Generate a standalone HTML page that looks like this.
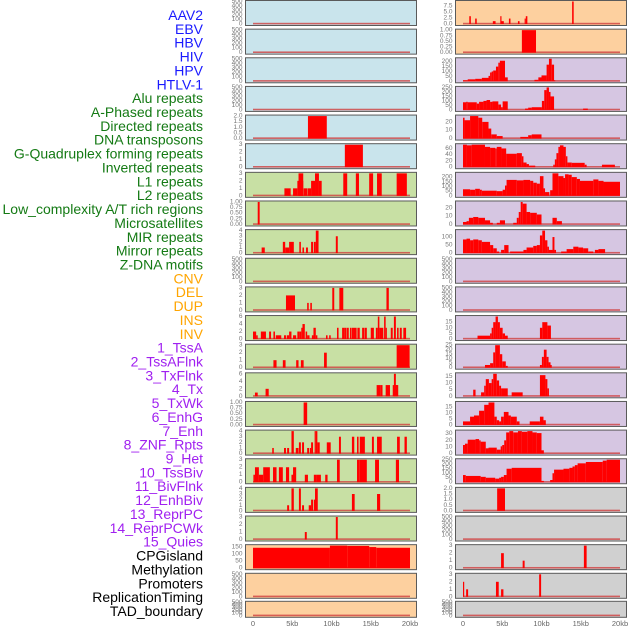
<!DOCTYPE html>
<html><head><meta charset="utf-8">
<style>
html,body{margin:0;padding:0;background:#fff;}
svg{display:block;font-family:"Liberation Sans",sans-serif;}
</style></head>
<body>
<svg id="chart" width="630" height="630" viewBox="0 0 630 630" xmlns="http://www.w3.org/2000/svg"></svg>
<script>
// ---- labels ----
const trackLabels = ["AAV2","EBV","HBV","HIV","HPV","HTLV-1",
"Alu repeats","A-Phased repeats","Directed repeats","DNA transposons","G-Quadruplex forming repeats","Inverted repeats","L1 repeats","L2 repeats","Low_complexity A/T rich regions","Microsatellites","MIR repeats","Mirror repeats","Z-DNA motifs",
"CNV","DEL","DUP","INS","INV",
"1_TssA","2_TssAFlnk","3_TxFlnk","4_Tx","5_TxWk","6_EnhG","7_Enh","8_ZNF_Rpts","9_Het","10_TssBiv","11_BivFlnk","12_EnhBiv","13_ReprPC","14_ReprPCWk","15_Quies",
"CPGisland","Methylation","Promoters","ReplicationTiming","TAD_boundary"];
const labelGroups = [6,13,5,15,5];
const groupColors = ["#1a1aff","#147a14","#ffa500","#a020f0","#000000"];
const xTickValues = [0,5,10,15,20];
const xTickLabels = ["0","5kb","10kb","15kb","20kb"];
const emptyTicks = [0,100,200,300,400,500];

// ---- left column bars [startKb, endKb, value] ----
const L4 = [[7.0,9.4,2]];
const L5 = [[11.7,14.0,3]];
const L6 = [[4.0,4.8,1],[5.1,5.65,1],[5.65,6.4,2],[5.8,6.4,3],[6.45,6.9,1],[6.95,7.4,1],[7.4,7.9,2],[7.9,8.4,3],[8.4,8.75,2],[11.5,12.0,3],[13.1,13.5,3],[14.8,15.3,3],[15.8,16.4,3],[18.3,19.6,3]];
const L7 = [[0.6,0.85,1]];
const L8 = [[1.1,1.5,1],[3.8,4.1,2],[4.1,4.6,1],[4.6,5.2,2],[5.9,6.1,2],[6.3,6.5,1],[6.75,7.0,1],[7.4,7.65,2],[7.75,8.0,2],[8.0,8.35,4],[10.55,10.8,3]];
const L10 = [[4.2,5.35,2],[6.9,7.1,1],[7.3,7.5,1],[10.1,10.35,3],[11.0,11.5,3],[17.0,17.3,3]];
const L11 = [[0,0.4,2],[0.4,0.6,1],[1.0,1.65,2],[2.05,2.3,2],[2.6,2.8,2],[2.9,3.6,1],[3.95,4.2,1],[4.3,4.6,1],[4.6,4.9,2],[5.1,5.5,1],[5.65,5.9,2],[5.9,6.15,2],[6.15,6.3,3],[6.3,6.6,4],[6.7,6.9,2],[6.9,7.2,1],[7.5,7.7,1],[7.7,8.0,3],[8.0,8.2,1],[9.3,9.5,1],[9.7,9.9,1],[10.7,10.9,3],[11.35,11.7,3],[11.7,11.9,3],[11.95,12.2,3],[12.35,12.55,3],[12.6,12.8,3],[12.8,13.2,3],[13.3,13.6,3],[13.9,14.15,3],[14.2,14.5,3],[15.0,15.4,3],[15.65,15.9,3],[15.9,16.1,6],[16.1,16.6,3],[16.7,16.9,6],[16.9,17.0,3],[17.55,17.8,3],[17.95,18.2,6],[18.35,18.55,3],[18.7,18.95,3],[19.15,19.5,3]];
const L12 = [[2.6,3.0,1],[3.8,4.15,1],[5.5,5.8,1],[6.1,6.45,1],[9.05,9.4,2],[18.3,19.95,3]];
const L13 = [[0.25,0.6,1],[1.6,2.0,2],[15.75,16.2,3],[16.2,16.5,3],[16.9,17.45,3],[17.8,18.4,3],[17.95,18.2,6],[18.2,18.5,3]];
const L14 = [[6.45,6.9,1]];
const L15 = [[2.45,2.65,1],[3.95,4.2,1],[4.35,4.6,1],[4.9,5.2,4],[5.45,5.8,1],[5.85,6.1,2],[6.25,6.5,2],[6.9,7.15,1],[7.25,7.4,1],[7.4,7.65,2],[7.85,8.0,4],[8.0,8.2,4],[8.2,8.5,2],[9.4,9.9,2],[10.95,11.2,3],[12.6,12.9,3],[13.25,13.45,3],[13.6,14.25,3],[15.15,15.4,3],[15.8,16.4,3],[18.35,18.7,3],[19.3,19.6,3]];
const L16 = [[0.05,0.25,1],[0.25,0.75,2],[0.75,1.3,1],[1.3,2.15,2],[2.55,3.0,2],[3.3,3.8,2],[4.2,4.6,2],[4.9,5.15,1],[5.1,5.5,2],[6.6,7.0,1],[7.75,8.1,1],[8.1,8.65,1],[9.2,9.5,1],[10.7,11.05,3],[13.25,13.6,3],[13.6,14.5,3],[15.55,16.05,3],[18.2,18.6,3]];
const L17 = [[4.35,4.6,1],[4.9,5.2,4],[5.85,6.1,4],[6.25,6.5,1],[7.1,7.4,1],[7.4,7.65,2],[7.75,7.95,2],[7.9,8.25,4],[12.6,12.95,3],[15.8,16.2,3]];
const L18 = [[6.6,6.85,1],[10.55,10.8,3]];
const L19 = [[0,9.8,145],[9.8,12.0,160],[12.0,14.8,158],[14.8,15.7,150],[15.7,20.0,145]];

// ---- right column bars ----
const R0 = [[0.8,1.0,3.3],[1.55,1.75,2.3],[3.8,4.15,1.2],[4.75,4.9,3.3],[4.9,5.2,1.2],[5.85,6.05,2.3],[7.0,7.2,1.2],[7.85,8.0,2.3],[8.0,8.2,3.3],[13.9,14.1,9.5]];
const R1 = [[7.5,9.3,1]];
const R2 = [[0,0.6,10],[0.6,1.55,20],[1.55,2.4,25],[2.4,3.25,35],[3.25,3.45,55],[3.45,3.65,90],[3.65,3.85,100],[3.85,4.2,110],[4.2,4.5,150],[4.5,4.7,190],[4.7,5.35,210],[5.35,5.7,40],[9.1,9.6,15],[9.6,10.0,40],[10.0,10.65,60],[10.65,10.95,170],[10.95,11.3,230],[11.3,11.6,170],[11.6,11.75,10]];
const R3 = [[0,0.4,85],[0.4,0.6,90],[0.6,1.75,85],[1.75,2.05,70],[2.05,2.6,90],[2.6,3.0,100],[3.0,3.45,110],[3.45,3.75,90],[3.75,4.5,95],[4.5,4.85,60],[4.85,5.05,30],[5.05,5.7,95],[7.9,8.3,15],[8.3,8.75,25],[8.75,10.05,30],[10.05,10.35,100],[10.35,10.65,220],[10.65,10.95,250],[10.95,11.15,200],[11.15,11.6,150],[15.3,15.9,15]];
const R4 = [[0,0.2,25],[0.2,0.9,22],[0.9,1.95,27],[1.95,2.45,25],[2.45,3.25,20],[3.25,3.6,12],[3.6,4.3,5],[4.3,5.05,3],[7.3,8.3,2],[8.3,8.75,4],[8.75,10.0,5]];
const R5 = [[0,0.5,72],[0.5,1.1,70],[1.1,2.8,72],[2.8,3.45,65],[3.45,4.1,62],[4.1,4.3,60],[4.3,4.9,65],[4.9,5.5,60],[5.5,6.85,43],[6.85,7.5,45],[7.5,7.7,35],[7.7,8.1,15],[8.1,8.4,10],[8.4,9.2,5],[11.5,11.7,8],[11.7,11.9,25],[11.9,12.15,45],[12.15,12.35,65],[12.35,12.8,70],[12.8,13.1,65],[13.1,13.3,35],[13.3,13.85,15],[13.85,15.5,14],[15.5,15.75,8],[17.7,19.35,8]];
const R6 = [[0,0.9,70],[0.9,1.55,65],[1.55,2.15,75],[2.15,2.4,65],[2.4,4.3,55],[4.3,5.05,50],[5.05,5.35,65],[5.35,5.55,110],[5.55,6.85,170],[6.85,7.7,165],[7.7,8.55,170],[8.55,8.95,160],[8.95,9.4,140],[9.4,9.8,130],[9.8,10.25,210],[10.25,10.45,80],[10.45,11.0,40],[11.1,11.4,60],[11.4,12.15,240],[12.15,12.8,210],[12.8,13.0,190],[13.0,13.45,230],[13.45,13.85,225],[13.85,14.5,200],[14.5,14.9,180],[14.9,16.6,160],[16.6,17.25,175],[17.25,17.9,160],[17.9,20.0,150]];
const R7 = [[0,0.45,3],[0.45,0.75,4],[0.75,1.3,8],[1.3,1.95,9],[1.95,2.8,8],[2.8,3.45,5],[3.45,3.8,2],[4.3,4.7,2],[4.7,5.35,5],[6.4,6.85,2],[6.85,7.1,8],[7.1,7.35,15],[7.35,7.6,27],[7.6,8.1,25],[8.1,8.55,15],[8.55,9.4,14],[9.4,10.0,12],[11.4,11.95,8],[11.95,12.6,4]];
const R8 = [[0,0.45,85],[0.45,0.9,90],[0.9,1.3,80],[1.3,1.95,85],[1.95,2.4,80],[2.4,3.45,70],[3.45,3.85,50],[3.85,4.3,30],[4.3,4.6,10],[4.85,5.25,20],[5.25,5.8,50],[6.0,7.7,10],[7.7,8.1,20],[8.1,8.95,35],[8.95,9.4,45],[9.4,9.8,50],[9.8,10.1,110],[10.1,10.45,140],[10.45,10.75,80],[10.75,10.95,40],[10.95,11.4,20],[11.4,11.65,100],[11.65,11.85,20],[12.5,13.2,10],[13.2,14.05,25],[14.05,14.7,40],[14.7,15.3,35],[15.3,15.95,30],[15.95,16.6,10],[16.8,17.25,20],[17.25,18.1,25]];
const R11 = [[1.85,3.45,3],[3.45,3.65,5],[3.65,3.85,10],[3.85,4.15,15],[4.15,4.45,20],[4.45,4.7,15],[4.7,5.05,10],[5.05,5.35,5],[5.35,5.7,3],[9.8,10.1,10],[10.1,10.75,15],[10.75,11.2,12]];
const R12 = [[2.8,3.45,3],[3.45,3.85,5],[3.85,4.1,17],[4.1,4.7,25],[4.7,5.0,15],[5.0,5.45,7],[5.45,5.7,2],[9.8,10.05,3],[10.05,10.3,12],[10.3,10.65,20],[10.65,10.9,12],[10.9,11.15,6],[11.15,11.3,3]];
const R13 = [[1.3,1.6,5],[2.3,2.7,3],[2.7,2.9,8],[2.9,3.3,13],[3.3,3.65,10],[3.65,3.85,13],[3.85,4.3,17],[4.3,4.6,12],[4.6,4.85,8],[4.85,5.7,6],[6.2,7.6,3],[9.8,10.5,16],[10.5,10.75,13],[10.75,10.95,6]];
const R14 = [[0,0.9,3],[0.9,1.4,7],[1.4,2.05,8],[2.05,2.7,12],[2.7,3.25,17],[3.25,4.0,19],[4.0,4.3,7],[4.3,4.6,4],[4.6,4.85,3],[4.85,5.2,7],[5.2,5.8,11],[5.8,6.1,8],[6.1,6.85,7],[6.85,7.2,3],[8.5,9.8,3],[9.8,10.25,7],[10.25,10.55,4]];
const R15 = [[0,0.25,13],[0.25,0.6,15],[0.6,1.6,21],[1.6,2.05,22],[2.05,2.25,20],[2.25,2.9,18],[2.9,3.25,8],[3.25,4.3,9],[4.3,4.8,6],[4.8,5.0,11],[5.0,5.25,13],[5.25,5.5,20],[5.5,5.9,32],[5.9,6.4,34],[6.4,7.0,32],[7.0,7.5,34],[7.5,8.2,33],[8.2,8.85,34],[8.85,9.4,32],[9.4,10.0,31],[10.0,10.3,5]];
const R16 = [[0,0.35,80],[0.35,2.25,70],[2.25,2.9,60],[2.9,4.1,50],[4.1,4.6,40],[4.6,4.85,50],[4.85,5.2,60],[5.2,5.55,80],[5.55,6.2,150],[6.2,10.0,160],[10.0,10.3,15],[11.1,11.4,25],[11.4,11.6,100],[11.6,12.8,140],[12.8,13.55,150],[13.55,13.95,160],[13.95,14.25,175],[14.25,14.6,190],[14.6,15.65,210],[15.65,17.8,225],[17.8,18.3,240],[18.3,20.0,250]];
const R17 = [[4.35,5.35,2]];
const R19 = [[4.85,5.2,2],[7.6,7.85,1],[15.4,15.75,3]];
const R20 = [[0,0.15,2],[0.4,0.65,1],[4.2,4.55,2],[4.85,5.15,1],[9.7,9.95,3]];

// ---- panel configuration ----
const BLUE="#c9e4ec", GREEN="#c8e0a4", ORANGE="#fdd09f", PURPLE="#d6c6e2", GRAY="#d0d0d0";
const leftTicks = {
 4:[2,[0,0.5,1,1.5,2],["0.0","0.5","1.0","1.5","2.0"]],
 5:[3,[0,1,2,3]],6:[3,[0,1,2,3]],
 7:[1,[0,0.25,0.5,0.75,1],["0.00","0.25","0.50","0.75","1.00"]],
 8:[4,[0,1,2,3,4]],10:[3,[0,1,2,3]],11:[6,[0,2,4,6]],
 12:[3,[0,1,2,3]],13:[6,[0,2,4,6]],
 14:[1,[0,0.25,0.5,0.75,1],["0.00","0.25","0.50","0.75","1.00"]],
 15:[4,[0,1,2,3,4]],16:[3,[0,1,2,3]],17:[4,[0,1,2,3,4]],18:[3,[0,1,2,3]],
 19:[160,[0,50,100,150]]
};
const leftBars = {4:L4,5:L5,6:L6,7:L7,8:L8,10:L10,11:L11,12:L12,13:L13,14:L14,15:L15,16:L16,17:L17,18:L18,19:L19};
const rightTicks = {
 0:[9.5,[0,2.5,5,7.5],["0.0","2.5","5.0","7.5"]],
 1:[1,[0,0.25,0.5,0.75,1],["0.00","0.25","0.50","0.75","1.00"]],
 2:[230,[0,50,100,150,200]],3:[250,[0,50,100,150,200,250]],
 4:[27,[0,10,20]],5:[72,[0,20,40,60]],6:[240,[0,50,100,150,200]],
 7:[27,[0,10,20]],8:[140,[0,50,100]],11:[20,[0,5,10,15]],
 12:[25,[0,5,10,15,20,25]],13:[17,[0,5,10,15]],14:[19,[0,5,10,15]],
 15:[34,[0,10,20,30]],16:[250,[0,50,100,150,200,250]],
 17:[2,[0,0.5,1,1.5,2],["0.0","0.5","1.0","1.5","2.0"]],
 19:[3,[0,1,2,3]],20:[3,[0,1,2,3]]
};
const rightBars = {0:R0,1:R1,2:R2,3:R3,4:R4,5:R5,6:R6,7:R7,8:R8,11:R11,12:R12,13:R13,14:R14,15:R15,16:R16,17:R17,19:R19,20:R20};

const NS="http://www.w3.org/2000/svg";
const svg=document.getElementById('chart');
function mk(tag,attrs,parent){const e=document.createElementNS(NS,tag);for(const k in attrs)e.setAttribute(k,attrs[k]);(parent||svg).appendChild(e);return e;}

let li=0;
labelGroups.forEach((n,g)=>{for(let k=0;k<n;k++){
  const t=mk('text',{x:203,y:15+li*13.86,'text-anchor':'end','dominant-baseline':'central','font-size':14,fill:groupColors[g]});
  t.textContent=trackLabels[li];
  
  
  li++;}});

function rowTop(r){return r<21? r*28.64 : 600.8;}
function rowH(r){return r<21?25:16;}
function bgFor(side,r){
  if(side==='L') return r<6?BLUE:(r<19?GREEN:ORANGE);
  return r<2?ORANGE:(r<17?PURPLE:GRAY);
}
function drawPanel(side,r){
  const x0 = side==='L'?245.5:455.5, zeroX = side==='L'?253:463, pxPerKb=7.85;
  const top=rowTop(r)+0.5, h=rowH(r), bottom=top+h;
  const xs=kb=>zeroX+kb*pxPerKb;
  const cfg=(side==='L'?leftTicks:rightTicks)[r];
  const bars=(side==='L'?leftBars:rightBars)[r]||[];
  const yMax=cfg?cfg[0]:500, ticks=cfg?cfg[1]:emptyTicks, tickLbl=cfg&&cfg[2]?cfg[2]:ticks.map(String);
  const ys=v=>bottom-1.5-v/yMax*(h-2.5);
  const g=mk('g',{});
  
  
  const bg=mk('rect',{x:x0,y:top,width:171,height:h,fill:bgFor(side,r),stroke:'#5a5a5a','stroke-width':1},g);
  
  
  ticks.forEach((v,i)=>{
    const t=mk('text',{x:x0-3,y:ys(v),'text-anchor':'end','dominant-baseline':'central','font-size':6.5,fill:'#777'},g);
    t.textContent=tickLbl[i];
    
    
  });
  const base=mk('rect',{x:xs(0),y:ys(0)-1.2,width:xs(20)-xs(0),height:1.6,fill:'#d04040','fill-opacity':0.8},g);
  
  
  bars.forEach(b=>{
    const x1=xs(b[0]),x2=xs(b[1]),y=ys(Math.min(b[2],yMax));
    const rc=mk('rect',{x:x1,y:Math.max(y,top),width:Math.max(x2-x1,1.2),height:ys(0)-Math.max(y,top),fill:'#ff0000'},g);
    
    
  });
}
for(let r=0;r<22;r++){drawPanel('L',r);drawPanel('R',r);}

[[253],[463]].forEach((z,ai)=>{
  xTickValues.forEach((v,i)=>{
    const t=mk('text',{x:z[0]+v*7.85,y:626,'text-anchor':'middle','font-size':7.5,fill:'#666'});
    t.textContent=xTickLabels[i];
    
    
  });
});
</script>
</body></html>
